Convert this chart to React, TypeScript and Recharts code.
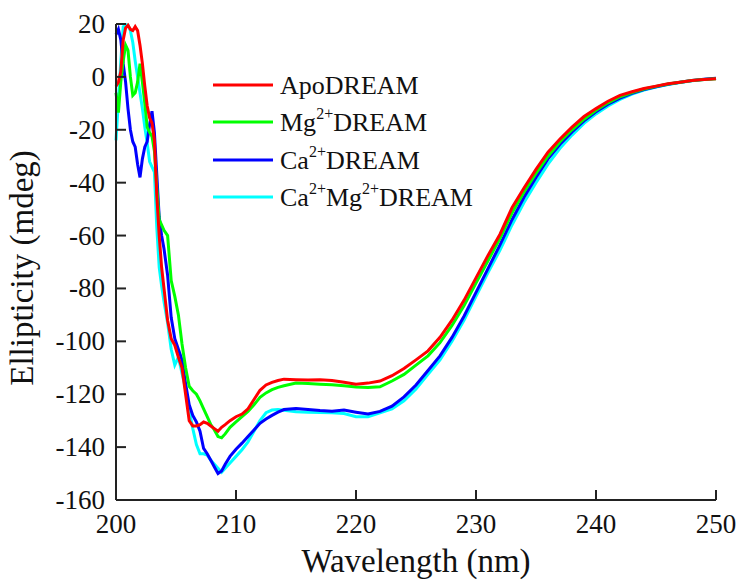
import React from 'react';
import { LineChart, Line, XAxis, YAxis } from 'recharts';

const wavelengths = [
  200, 200.2, 200.4, 200.6, 200.8, 201.0, 201.2, 201.4, 201.6, 201.8,
  202.0, 202.2, 202.4, 202.6, 202.8, 203.0, 203.2, 203.4, 203.6, 203.8,
  204.0, 204.3, 204.6, 204.9, 205.2, 205.5, 205.8, 206.1, 206.4, 206.7,
  207.0, 207.3, 207.6, 207.9, 208.2, 208.5, 208.8, 209.1, 209.5, 210,
  210.5, 211, 211.5, 212, 212.5, 213, 213.5, 214, 215, 216,
  217, 218, 219, 220, 221, 222, 223, 224, 225, 226,
  227, 228, 229, 230, 231, 232, 233, 234, 235, 236,
  237, 238, 239, 240, 241, 242, 243, 244, 245, 246,
  247, 248, 249, 250,
];

const apoDream = [
  -3.5, -2, 2, 14, 18.5, 19.5, 18, 17.5, 19, 17.5,
  12, 5, -3.5, -11, -15.5, -17.5, -24, -45, -60, -72,
  -80, -92, -99, -101.5, -106, -110, -120, -130, -132, -132,
  -131.5, -130.5, -131, -132, -133, -134, -132.5, -131.5, -130, -128.5,
  -127.5, -125.5, -122, -118.5, -116.5, -115.5, -114.8, -114.3, -114.5, -114.6,
  -114.5, -114.8, -115.5, -116.2, -115.8, -115, -113, -110.3, -107, -103.6,
  -98.5, -92, -84.5, -76, -67.5, -59.5, -49.5, -42, -35, -28.5,
  -23.5, -19, -15, -12, -9.2, -7, -5.6, -4.4, -3.5, -2.6,
  -2, -1.4, -1, -0.7,
];

const mgDream = [
  -6, -13.5, -2, 6, 12, 10, 0, -7, -6, -2,
  5, -2, -10, -19, -21, -22.5, -28, -42, -54, -56,
  -58, -60, -77, -83, -90, -101, -110, -117, -118.7, -120,
  -122.5, -125.5, -128.5, -131.5, -133.5, -136, -136.5, -135, -132.5, -130.5,
  -128.5, -126.5, -124, -121.2, -119.5, -118.3, -117.4, -116.8, -115.8, -115.9,
  -116.2, -116.4, -116.8, -117.3, -117.5, -117.2, -115, -112.5, -109, -105.5,
  -100.5, -94, -86.5, -78, -69.5, -61, -51.5, -43.5, -36.5, -30,
  -24.5, -20, -16, -12.6, -9.8, -7.5, -5.9, -4.6, -3.6, -2.7,
  -2, -1.4, -1, -0.7,
];

const caDream = [
  16, 18, 14, 5, -2, -12, -20, -24.5, -26.5, -33,
  -38, -31, -26.5, -24.5, -18, -13, -21, -37, -53, -60,
  -65, -75, -91, -99, -103, -107, -116, -124, -128, -130.5,
  -134, -140.5, -142.5, -145, -147.5, -150, -149, -146.5, -143.5, -140.8,
  -138.5, -136, -133.5, -131, -129.4, -128, -126.8, -125.8, -125.4, -125.8,
  -126.2, -126.4, -126, -126.8, -127.5, -126.5, -124.5, -121, -116.5, -111,
  -105.5, -98.5, -90.5, -81.5, -72.5, -63.5, -54, -45.5, -38, -31,
  -25.5, -20.8, -16.6, -13.2, -10.3, -8, -6.2, -4.8, -3.7, -2.8,
  -2, -1.4, -0.9, -0.5,
];

const caMgDream = [
  -24, -9, 6, 19, 19.8, 19.6, 17.5, 13, 6, 0,
  -6, -12, -19, -25, -32, -34, -36, -57, -72, -79,
  -85, -93, -103, -109, -106, -112, -118, -126, -133, -139,
  -142.5, -142.5, -143, -145, -146.5, -148, -149.5, -148, -146, -143.5,
  -141, -138, -134, -130, -127, -126, -125.8, -126.1, -126.6, -126.8,
  -126.9, -127, -127.3, -128.5, -128.5, -127, -125.5, -122.5, -118, -112.5,
  -107, -100, -92, -83, -74, -65.5, -56, -47.5, -40, -33,
  -27, -22, -17.6, -14, -11, -8.5, -6.5, -5, -3.8, -2.9,
  -2.1, -1.5, -1, -0.6,
];

const xTicks = [200, 210, 220, 230, 240, 250];
const yTicks = [20, 0, -20, -40, -60, -80, -100, -120, -140, -160];

const seriesNames = ['ApoDREAM', 'Mg2+DREAM', 'Ca2+DREAM', 'Ca2+Mg2+DREAM'];
const seriesColors = ['#ff0000', '#00ff00', '#0000ff', '#00ffff'];

const data = wavelengths.map((wl, i) => ({
  wl,
  apo: apoDream[i],
  mg: mgDream[i],
  ca: caDream[i],
  camg: caMgDream[i],
}));

const FONT = "'Liberation Serif', 'DejaVu Serif', 'Times New Roman', Times, serif";
const AXIS = '#222';

function XTick(props: any) {
  const { x, y, payload } = props;
  return (
    <text x={x} y={y + 19} textAnchor="middle" fontSize={27} fill="#111" style={{ fontFamily: FONT }}>
      {payload.value}
    </text>
  );
}

function YTick(props: any) {
  const { x, y, payload } = props;
  return (
    <text x={x} y={y + 9} textAnchor="end" fontSize={27} fill="#111" style={{ fontFamily: FONT }}>
      {payload.value}
    </text>
  );
}

const NoTick = () => <g />;

const SUP_SIZE = 16;
const SUP_RISE = 12;

export default function App() {
  const legendRows = [85, 122, 160, 197];
  return (
    <div style={{ position: 'absolute', left: 0, top: 0, width: 740, height: 580, background: '#fff', fontFamily: FONT }}>
      <LineChart
        width={740}
        height={580}
        data={data}
        margin={{ top: 24, right: 24, left: 36, bottom: 20 }}
      >
        <XAxis
          xAxisId="bottom"
          dataKey="wl"
          type="number"
          domain={[200, 250]}
          ticks={xTicks}
          height={60}
          tickSize={-10}
          tickMargin={24}
          tick={<XTick />}
          axisLine={{ stroke: AXIS, strokeWidth: 2 }}
          tickLine={{ stroke: AXIS, strokeWidth: 2 }}
        />
        <XAxis
          xAxisId="top"
          orientation="top"
          dataKey="wl"
          type="number"
          domain={[200, 250]}
          ticks={xTicks}
          height={0}
          tickSize={-10}
          tick={<NoTick />}
          axisLine={{ stroke: AXIS, strokeWidth: 2 }}
          tickLine={{ stroke: AXIS, strokeWidth: 2 }}
        />
        <YAxis
          yAxisId="left"
          type="number"
          domain={[-160, 20]}
          ticks={yTicks}
          width={80}
          tickSize={-10}
          tickMargin={21}
          tick={<YTick />}
          axisLine={{ stroke: AXIS, strokeWidth: 2 }}
          tickLine={{ stroke: AXIS, strokeWidth: 2 }}
        />
        <YAxis
          yAxisId="right"
          orientation="right"
          type="number"
          domain={[-160, 20]}
          ticks={yTicks}
          width={0}
          tickSize={-10}
          tick={<NoTick />}
          axisLine={{ stroke: AXIS, strokeWidth: 2 }}
          tickLine={{ stroke: AXIS, strokeWidth: 2 }}
        />
        <Line xAxisId="bottom" yAxisId="left" dataKey="camg" stroke={seriesColors[3]} strokeWidth={3} dot={false} isAnimationActive={false} name={seriesNames[3]} />
        <Line xAxisId="bottom" yAxisId="left" dataKey="ca" stroke={seriesColors[2]} strokeWidth={3} dot={false} isAnimationActive={false} name={seriesNames[2]} />
        <Line xAxisId="bottom" yAxisId="left" dataKey="mg" stroke={seriesColors[1]} strokeWidth={3} dot={false} isAnimationActive={false} name={seriesNames[1]} />
        <Line xAxisId="bottom" yAxisId="left" dataKey="apo" stroke={seriesColors[0]} strokeWidth={3} dot={false} isAnimationActive={false} name={seriesNames[0]} />
      </LineChart>
      <svg
        width={740}
        height={580}
        style={{ position: 'absolute', left: 0, top: 0, pointerEvents: 'none', fontFamily: FONT }}
      >
        <g fill="#111" style={{ fontFamily: FONT }}>
          <text x={416} y={572} textAnchor="middle" fontSize={33}>Wavelength (nm)</text>
          <text transform="translate(33,268) rotate(-90)" textAnchor="middle" fontSize={33}>Ellipticity (mdeg)</text>
          {legendRows.map((y, i) => (
            <line key={i} x1={213} x2={273} y1={y} y2={y} stroke={seriesColors[i]} strokeWidth={3} />
          ))}
          <text x={280} y={legendRows[0] + 9} fontSize={26}>ApoDREAM</text>
          <text x={280} y={legendRows[1] + 9} fontSize={26}>
            <tspan>Mg</tspan>
            <tspan fontSize={SUP_SIZE} dy={-SUP_RISE}>2+</tspan>
            <tspan dy={SUP_RISE}>DREAM</tspan>
          </text>
          <text x={280} y={legendRows[2] + 9} fontSize={26}>
            <tspan>Ca</tspan>
            <tspan fontSize={SUP_SIZE} dy={-SUP_RISE}>2+</tspan>
            <tspan dy={SUP_RISE}>DREAM</tspan>
          </text>
          <text x={280} y={legendRows[3] + 9} fontSize={26}>
            <tspan>Ca</tspan>
            <tspan fontSize={SUP_SIZE} dy={-SUP_RISE}>2+</tspan>
            <tspan dy={SUP_RISE}>Mg</tspan>
            <tspan fontSize={SUP_SIZE} dy={-SUP_RISE}>2+</tspan>
            <tspan dy={SUP_RISE}>DREAM</tspan>
          </text>
        </g>
      </svg>
    </div>
  );
}
